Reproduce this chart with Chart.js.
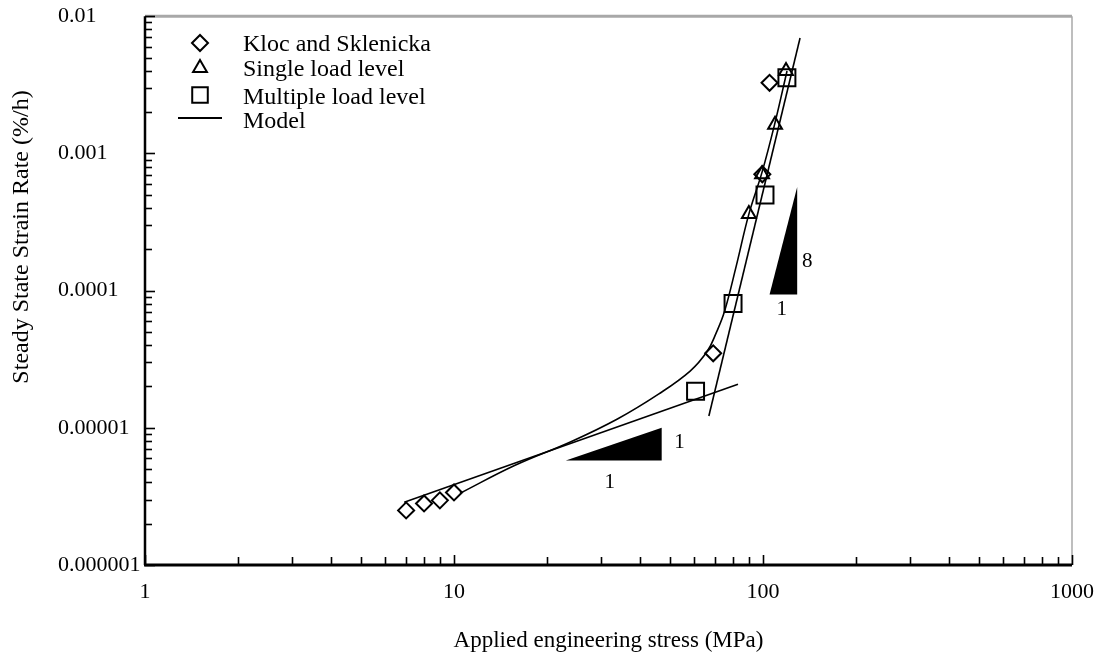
<!DOCTYPE html>
<html>
<head>
<meta charset="utf-8">
<script src="https://cdn.jsdelivr.net/npm/chart.js@4.4.1/dist/chart.umd.min.js"></script>
<style>
  html, body { margin: 0; padding: 0; background: #fff; }
  #wrap { width: 1101px; height: 657px; }
</style>
</head>
<body>
<div id="wrap"><canvas id="chart"></canvas></div>
<script>
// measured points
const klocX = [7, 8, 9, 10, 69, 99.5, 105];
const klocY = [2.5e-6, 2.81e-6, 2.96e-6, 3.38e-6, 3.49e-5, 7.05e-4, 3.27e-3];
const singleX = [90, 99.3, 109.4, 118.7];
const singleY = [3.61e-4, 7.05e-4, 1.62e-3, 3.99e-3];
const multiX = [60.5, 80, 101.5, 119.5];
const multiY = [1.85e-5, 8.05e-5, 4.97e-4, 3.56e-3];

// model lines: low stress branch, combined curve, high stress branch
const lowX = [6.9, 83];
const lowY = [2.87e-6, 2.08e-5];
const curveX = [10.46, 15.7, 23.9, 33.8, 45.9, 58.1, 66, 70.5, 75, 81.8, 90, 99.3, 109.4, 119.6];
const curveY = [3.33e-6, 5.31e-6, 7.92e-6, 1.16e-5, 1.76e-5, 2.59e-5, 3.61e-5, 4.9e-5, 7.0e-5, 1.49e-4, 3.61e-4, 7.3e-4, 1.68e-3, 3.99e-3];
const highX = [66.8, 131.8];
const highY = [1.22e-5, 6.93e-3];

// slope triangles (data coords) and their labels
const slopeTriX = [[23, 47, 47], [105, 129, 129]];
const slopeTriY = [[5.77e-6, 5.77e-6, 1.0e-5], [9.35e-5, 9.35e-5, 5.68e-4]];
const slopeLabelX = [53.7, 31.9, 139, 115];
const slopeLabelY = [7.78e-6, 3.99e-6, 1.62e-4, 7.28e-5];
const slopeLabelText = ['1', '1', '8', '1'];

const xTickVals = [1, 10, 100, 1000];
const xTickLabels = ['1', '10', '100', '1000'];
const yTickVals = [1e-6, 1e-5, 1e-4, 1e-3, 1e-2];
const yTickLabels = ['0.000001', '0.00001', '0.0001', '0.001', '0.01'];

const FONT = '"Liberation Serif", "Times New Roman", serif';

const pts = (xs, ys) => xs.map((x, i) => ({ x: x, y: ys[i] }));

const marker = { borderColor: '#000', backgroundColor: 'rgba(255,255,255,0)', borderWidth: 2, showLine: false };
const modelLine = { borderColor: '#000', borderWidth: 1.6, pointRadius: 0, showLine: true, fill: false };

const datasets = [
  Object.assign({ label: 'Model', data: pts(lowX, lowY) }, modelLine),
  Object.assign({ label: 'Model', data: pts(curveX, curveY), tension: 0.4 }, modelLine),
  Object.assign({ label: 'Model', data: pts(highX, highY) }, modelLine),
  Object.assign({ label: 'Kloc and Sklenicka', data: pts(klocX, klocY), pointStyle: 'rectRot', pointRadius: 8 }, marker),
  Object.assign({ label: 'Single load level', data: pts(singleX, singleY), pointStyle: 'triangle', pointRadius: 8 }, marker),
  Object.assign({ label: 'Multiple load level', data: pts(multiX, multiY), pointStyle: 'rect', pointRadius: 12 }, marker),
];

function minorValues(min, max) {
  const out = [];
  for (let e = Math.round(Math.log10(min)); e < Math.round(Math.log10(max)); e++) {
    for (let m = 1; m <= 9; m++) out.push({ v: m * Math.pow(10, e), major: m === 1 });
  }
  out.push({ v: max, major: true });
  return out;
}

// frame, inward ticks, legend, axis title and slope triangles
const decorPlugin = {
  id: 'decor',
  afterDraw(chart) {
    const ctx = chart.ctx;
    const a = chart.chartArea;
    const xs = chart.scales.x;
    const ys = chart.scales.y;
    ctx.save();

    // slope triangles
    ctx.fillStyle = '#000';
    slopeTriX.forEach((tx, k) => {
      ctx.beginPath();
      tx.forEach((v, i) => {
        const px = xs.getPixelForValue(v);
        const py = ys.getPixelForValue(slopeTriY[k][i]);
        if (i === 0) ctx.moveTo(px, py); else ctx.lineTo(px, py);
      });
      ctx.closePath();
      ctx.fill();
    });
    ctx.font = '21px ' + FONT;
    ctx.textAlign = 'center';
    ctx.textBaseline = 'middle';
    slopeLabelText.forEach((t, i) => {
      ctx.fillText(t, xs.getPixelForValue(slopeLabelX[i]), ys.getPixelForValue(slopeLabelY[i]));
    });

    // frame
    ctx.strokeStyle = '#a8a8a8';
    ctx.lineWidth = 3;
    ctx.beginPath(); ctx.moveTo(a.left, a.top); ctx.lineTo(a.right, a.top); ctx.stroke();
    ctx.lineWidth = 1.5;
    ctx.beginPath(); ctx.moveTo(a.right, a.top); ctx.lineTo(a.right, a.bottom); ctx.stroke();
    ctx.strokeStyle = '#000';
    ctx.lineWidth = 2.5;
    ctx.beginPath(); ctx.moveTo(a.left, a.top); ctx.lineTo(a.left, a.bottom); ctx.stroke();
    ctx.lineWidth = 3;
    ctx.beginPath(); ctx.moveTo(a.left - 1, a.bottom); ctx.lineTo(a.right, a.bottom); ctx.stroke();

    // inward log ticks
    ctx.lineWidth = 1.6;
    minorValues(xs.min, xs.max).forEach(t => {
      const px = Math.round(xs.getPixelForValue(t.v)) + 0.5;
      ctx.beginPath(); ctx.moveTo(px, a.bottom); ctx.lineTo(px, a.bottom - (t.major ? 10 : 8)); ctx.stroke();
    });
    minorValues(ys.min, ys.max).forEach(t => {
      const py = Math.round(ys.getPixelForValue(t.v)) + 0.5;
      ctx.beginPath(); ctx.moveTo(a.left, py); ctx.lineTo(a.left + (t.major ? 10 : 7), py); ctx.stroke();
    });

    // y axis title
    ctx.font = '24px ' + FONT;
    ctx.fillStyle = '#000';
    ctx.translate(22, 237);
    ctx.rotate(-Math.PI / 2);
    ctx.textAlign = 'center';
    ctx.textBaseline = 'middle';
    ctx.fillText('Steady State Strain Rate (%/h)', 0, 0);
    ctx.setTransform(1, 0, 0, 1, 0, 0);

    // legend
    const lx = a.left + 55;
    const tx = a.left + 98;
    const rows = [
      { ds: chart.data.datasets[3], y: 43, ty: 45 },
      { ds: chart.data.datasets[4], y: 68, ty: 70 },
      { ds: chart.data.datasets[5], y: 95, ty: 98 },
      { ds: chart.data.datasets[0], y: 118, ty: 122, line: true },
    ];
    ctx.font = '24px ' + FONT;
    ctx.textAlign = 'left';
    ctx.textBaseline = 'middle';
    rows.forEach(r => {
      ctx.strokeStyle = '#000';
      if (r.line) {
        ctx.lineWidth = 2;
        ctx.beginPath(); ctx.moveTo(lx - 22, r.y); ctx.lineTo(lx + 22, r.y); ctx.stroke();
      } else {
        ctx.fillStyle = 'rgba(255,255,255,0)';
        ctx.lineWidth = 2;
        Chart.helpers.drawPoint(ctx, {
          pointStyle: r.ds.pointStyle,
          radius: r.ds.pointStyle === 'rect' ? 11 : 8,
          rotation: 0,
          borderWidth: 2,
        }, lx, r.y);
      }
      ctx.fillStyle = '#000';
      ctx.fillText(r.ds.label, tx, r.ty);
    });
    ctx.restore();
  }
};

new Chart(document.getElementById('chart'), {
  type: 'scatter',
  data: { datasets: datasets },
  options: {
    responsive: true,
    maintainAspectRatio: false,
    animation: false,
    layout: { padding: { left: 58, top: 13, right: 29, bottom: 0 } },
    plugins: { legend: { display: false }, tooltip: { enabled: false } },
    scales: {
      x: {
        type: 'logarithmic',
        min: 1,
        max: 1000,
        grid: { display: false, drawTicks: false },
        border: { display: false },
        afterBuildTicks: s => { s.ticks = xTickVals.map(v => ({ value: v })); },
        afterFit: s => { s.height = 92; s.paddingLeft = 0; s.paddingRight = 0; },
        ticks: {
          color: '#000',
          padding: 14,
          maxRotation: 0,
          font: { family: FONT, size: 22 },
          callback: (v, i) => xTickLabels[i],
        },
        title: {
          display: true,
          text: 'Applied engineering stress (MPa)',
          color: '#000',
          font: { family: FONT, size: 23 },
          padding: { top: 0, bottom: 2 },
        },
      },
      y: {
        type: 'logarithmic',
        min: 1e-6,
        max: 1e-2,
        grid: { display: false, drawTicks: false },
        border: { display: false },
        afterBuildTicks: s => { s.ticks = yTickVals.map(v => ({ value: v })); },
        afterFit: s => { s.width = 87; },
        ticks: {
          color: '#000',
          crossAlign: 'far',
          font: { family: FONT, size: 22 },
          callback: (v, i) => yTickLabels[i],
        },
      },
    },
  },
  plugins: [decorPlugin],
});
</script>
</body>
</html>
